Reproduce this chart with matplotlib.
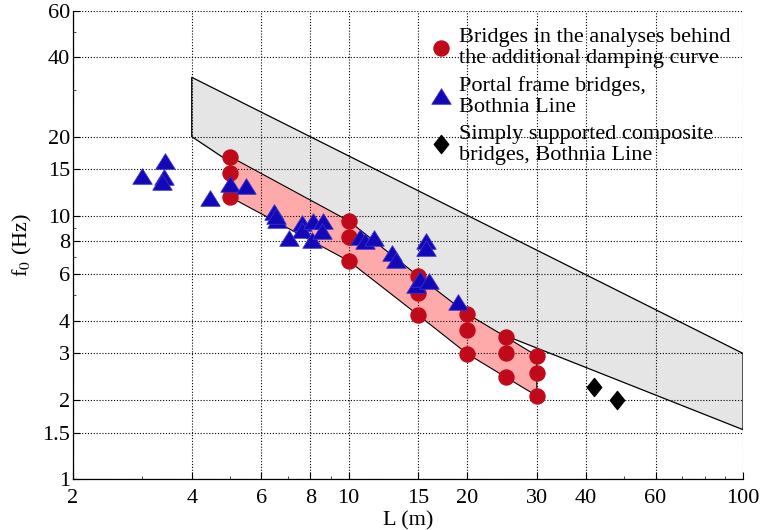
import matplotlib
matplotlib.use("Agg")
import matplotlib.pyplot as plt
import numpy as np
from matplotlib.patches import Polygon
from matplotlib.path import Path
from matplotlib.ticker import FixedLocator, FixedFormatter, NullFormatter, LogLocator

plt.rcParams['font.family'] = ['Liberation Serif', 'DejaVu Serif']
plt.rcParams['mathtext.fontset'] = 'stix'

# Bridges in the analyses behind the additional damping curve
damp_L = [5, 5, 5, 10, 10, 10, 15, 15, 15, 20, 20, 20, 25, 25, 25, 30, 30, 30]
damp_f = [16.8, 14.6, 11.8, 9.57, 8.32, 6.74, 5.91, 5.1, 4.2,
          4.24, 3.69, 2.99, 3.47, 3.01, 2.44, 2.94, 2.53, 2.07]

# Portal frame bridges, Bothnia Line
portal_L = [3.0, 3.42, 3.41, 3.36, 4.45, 5.0, 5.49, 6.46, 6.6, 6.54, 7.04,
            7.61, 7.6, 8.11, 8.06, 8.63, 8.55, 10.7, 11.0, 11.6, 12.9, 13.2,
            15.7, 15.7, 14.8, 15.2, 16.0, 18.9]
portal_f = [14.2, 16.1, 14.0, 13.5, 11.7, 13.2, 13.0, 10.3, 9.66, 10.0, 8.27,
            9.38, 8.85, 9.52, 8.1, 9.57, 8.72, 8.34, 8.04, 8.27, 7.21, 6.8,
            7.99, 7.54, 5.47, 5.76, 5.66, 4.7]

# Simply supported composite bridges, Bothnia Line
comp_L = [42.0, 48.0]
comp_f = [2.23, 2.0]

# Limits of the natural frequency band
limit_L_upper = [4, 100]
limit_f_upper = [33.6, 3.0]
limit_L_lower = [4, 20, 100]
limit_f_lower = [20.0, 4.0, 1.54]

x_ticks = [2, 4, 6, 8, 10, 15, 20, 30, 40, 60, 100]
y_ticks = [1, 1.5, 2, 3, 4, 6, 8, 10, 15, 20, 40, 60]

fig = plt.figure(figsize=(7.63, 5.30), dpi=100)
ax = fig.add_axes([0.0957, 0.0962, 0.8781, 0.883])
ax.set_xscale('log')
ax.set_yscale('log')
ax.set_xlim(2, 100)
ax.set_ylim(1, 60)

# grey band between the upper and lower frequency limits
band = list(zip(limit_L_upper, limit_f_upper)) + list(zip(limit_L_lower[::-1], limit_f_lower[::-1]))
ax.add_patch(Polygon(band, closed=True, facecolor='#e5e5e5', edgecolor='black',
                     linewidth=0.9, zorder=0.8))

# pink envelope of the analysed bridges
dL = np.array(damp_L, dtype=float)
dF = np.array(damp_f, dtype=float)
uL = np.unique(dL)
env_hi = [dF[dL == v].max() for v in uL]
env_lo = [dF[dL == v].min() for v in uL]
env = list(zip(uL, env_hi)) + list(zip(uL[::-1], env_lo[::-1]))
ax.add_patch(Polygon(env, closed=True, facecolor='#ffaaaa', edgecolor='black',
                     linewidth=0.8, zorder=0.9))

tri = Path([(-1, -0.8), (1, -0.8), (0, 0.8), (-1, -0.8)],
           [Path.MOVETO, Path.LINETO, Path.LINETO, Path.CLOSEPOLY])
dia = Path([(0, 1), (0.8, 0), (0, -1), (-0.8, 0), (0, 1)],
           [Path.MOVETO, Path.LINETO, Path.LINETO, Path.LINETO, Path.CLOSEPOLY])

h1, = ax.plot(damp_L, damp_f, linestyle='none', marker='o', markersize=10.8,
              markerfacecolor='#c00a1a', markeredgecolor='#c00a1a', zorder=3,
              label='Bridges in the analyses behind\nthe additional damping curve')
h2, = ax.plot(portal_L, portal_f, linestyle='none', marker=tri, markersize=14,
              markerfacecolor='#1208b8', markeredgecolor='#3a30c8',
              markeredgewidth=0.6, zorder=4,
              label='Portal frame bridges,\nBothnia Line')
h3, = ax.plot(comp_L, comp_f, linestyle='none', marker=dia, markersize=13,
              markerfacecolor='black', markeredgecolor='black', zorder=5,
              label='Simply supported composite\nbridges, Bothnia Line')

ax.xaxis.set_major_locator(FixedLocator(x_ticks))
ax.xaxis.set_major_formatter(FixedFormatter([str(v) for v in x_ticks]))
ax.yaxis.set_major_locator(FixedLocator(y_ticks))
ax.yaxis.set_major_formatter(FixedFormatter([('%g' % v) for v in y_ticks]))
ax.xaxis.set_minor_locator(LogLocator(base=10, subs=np.arange(1, 10) * 0.1, numticks=50))
ax.yaxis.set_minor_locator(LogLocator(base=10, subs=np.arange(1, 10) * 0.1, numticks=50))
ax.xaxis.set_minor_formatter(NullFormatter())
ax.yaxis.set_minor_formatter(NullFormatter())

ax.tick_params(which='major', direction='in', length=5, width=0.8, labelsize=16)
ax.tick_params(axis='x', which='major', pad=7.5)
ax.tick_params(axis='y', which='major', pad=2)
ax.tick_params(which='minor', direction='in', length=2.5, width=0.5)
ax.tick_params(axis='x', which='both', top=False)
ax.tick_params(axis='y', which='both', right=False)

ax.set_axisbelow('line')
ax.grid(True, which='major', color='black', linestyle=(0, (1, 1.6)), linewidth=0.8)

for s in ['top', 'right']:
    ax.spines[s].set_visible(False)
for s in ['left', 'bottom']:
    ax.spines[s].set_linewidth(0.9)

ax.set_xlabel('L (m)', fontsize=16)
ax.xaxis.set_label_coords(0.5, -0.069)
ax.set_ylabel('f$_0$ (Hz)', fontsize=16, labelpad=6)

leg = ax.legend(handles=[h1, h2, h3], loc='upper left', bbox_to_anchor=(0.533, 0.963),
                frameon=False, fontsize=16, handlelength=1.0, handletextpad=0.3,
                borderpad=0.0, labelspacing=0.35, borderaxespad=0.0)
for t in leg.get_texts():
    t.set_linespacing(1.15)

fig.savefig('out.png', dpi=100)
